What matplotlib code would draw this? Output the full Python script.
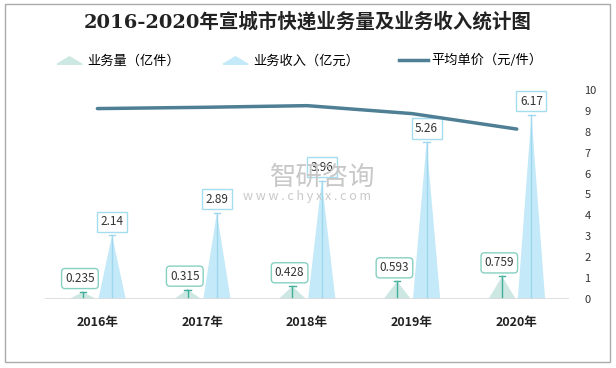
import matplotlib.pyplot as plt
from matplotlib.patches import Rectangle
from matplotlib.lines import Line2D

plt.rcParams['font.family'] = ['Noto Sans CJK SC', 'DejaVu Sans']

years = ["2016年", "2017年", "2018年", "2019年", "2020年"]
volume = [0.235, 0.315, 0.428, 0.593, 0.759]   # 业务量（亿件）
revenue = [2.14, 2.89, 3.96, 5.26, 6.17]       # 业务收入（亿元）
price = [9.11, 9.17, 9.25, 8.87, 8.13]         # 平均单价（元/件）

c_vol, c_vol_line, c_vol_edge = "#cde8e2", "#3fae9a", "#86d0c2"
c_rev, c_rev_line, c_rev_edge = "#c4e9f8", "#9fd8ee", "#a6dcef"
c_price = "#4f7f94"

fig = plt.figure(figsize=(6.16, 3.68), dpi=100)
fig.patches.append(Rectangle((0.008, 0.015), 0.982, 0.975, transform=fig.transFigure,
                             fill=False, edgecolor="#aaaaaa", linewidth=1))

ax = fig.add_axes([0.073, 0.1875, 0.851, 0.568])
ax2 = ax.twinx()

w = 0.26
off = 0.14
x = list(range(len(years)))

for i in x:
    # volume triangle
    xc = i - off
    ax.fill([xc - w / 2, xc, xc + w / 2], [0, volume[i], 0], color=c_vol, lw=0)
    ax.plot([xc, xc], [0, volume[i]], color=c_vol_line, lw=1)
    ax.plot([xc - 0.03, xc + 0.03], [volume[i]] * 2, color=c_vol_line, lw=1)
    ax.annotate(f"{volume[i]:g}", (xc, volume[i]), xytext=(-2, 5), textcoords="offset points",
                ha="center", va="bottom", fontsize=8.5, color="#333333",
                bbox=dict(boxstyle="round,pad=0.3", fc="white", ec=c_vol_edge, lw=1),
                arrowprops=dict(arrowstyle="-", color=c_vol_edge, lw=0.8))
    # revenue triangle
    xc = i + off
    ax.fill([xc - w / 2, xc, xc + w / 2], [0, revenue[i], 0], color=c_rev, lw=0)
    ax.plot([xc, xc], [0, revenue[i]], color=c_rev_line, lw=1)
    ax.plot([xc - 0.03, xc + 0.03], [revenue[i]] * 2, color=c_rev_line, lw=1)
    ax.annotate(f"{revenue[i]:g}", (xc, revenue[i]), xytext=(0, 5), textcoords="offset points",
                ha="center", va="bottom", fontsize=8.5, color="#333333",
                bbox=dict(boxstyle="square,pad=0.3", fc="white", ec=c_rev_edge, lw=1))

ax2.plot(x, price, color=c_price, lw=2.5, solid_capstyle="round")

ax.set_xlim(-0.5, len(years) - 0.5)
ax.set_ylim(0, 7)
ax2.set_ylim(0, 10)
ax.set_yticks([])
ax2.set_yticks(range(0, 11))
ax2.tick_params(axis="y", length=0, labelsize=8, labelcolor="#333333", pad=11)
ax.set_xticks(x)
ax.set_xticklabels(years, fontsize=9, fontweight="bold", color="#222222")
ax.tick_params(axis="x", length=0, pad=12)
for a in (ax, ax2):
    for s in a.spines.values():
        s.set_visible(False)
ax.axhline(0, color="#d9d9d9", lw=1.2)

fig.text(0.5, 0.94, "2016-2020年宣城市快递业务量及业务收入统计图", ha="center", va="center",
         fontsize=14, fontweight="bold", color="#222222", family=["DejaVu Serif", "Noto Sans CJK SC"])

flat_tri = [(-1.0, -0.3), (0.0, 0.3), (1.0, -0.3), (-1.0, -0.3)]
handles = [
    Line2D([], [], marker=flat_tri, ls="none", markersize=18, color=c_vol, label="业务量（亿件）"),
    Line2D([], [], marker=flat_tri, ls="none", markersize=18, color=c_rev, label="业务收入（亿元）"),
    Line2D([], [], color=c_price, lw=2.5, label="平均单价（元/件）"),
]
fig.legend(handles=handles, loc="center", bbox_to_anchor=(0.485, 0.835), ncol=3, frameon=False,
           fontsize=9.5, handlelength=2.2, handletextpad=0.3, columnspacing=3.0)

# watermark
fig.text(0.524, 0.517, "智研咨询", ha="center", va="center", fontsize=19, color="#c8c8c8")
fig.text(0.499, 0.465, "w w w . c h y x x . c o m", ha="center", va="center", fontsize=9,
         color="#c8c8c8")

fig.savefig("out.png", dpi=100)
